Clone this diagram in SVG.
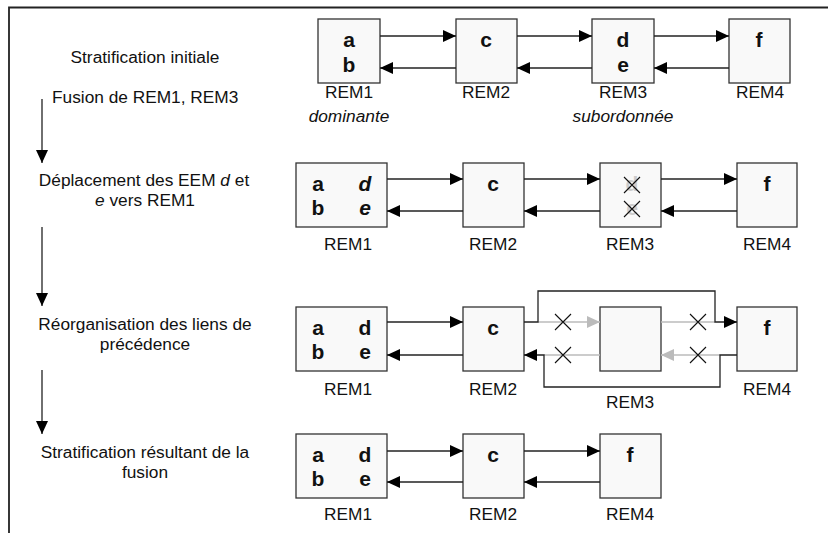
<svg xmlns="http://www.w3.org/2000/svg" width="828" height="533" viewBox="0 0 828 533">
<style>
.bx{fill:#f9f9f9;stroke:#333;stroke-width:1.3}
.t{font-family:"Liberation Sans",Arial,sans-serif;font-size:17.3px;fill:#111}
.l{font-family:"Liberation Sans",Arial,sans-serif;font-size:21px;font-weight:bold;fill:#111;text-anchor:middle}
.c{text-anchor:middle}
.i{font-style:italic}
.a{stroke:#222;stroke-width:1.3;fill:none;marker-end:url(#ah)}
.g{stroke:#bbb;stroke-width:1.3;fill:none}
.ga{stroke:#bbb;stroke-width:1.3;fill:none;marker-end:url(#gh)}
.x{stroke:#111;stroke-width:1.1}
.gl{fill:#ccc}
</style>
<defs>
<marker id="ah" markerUnits="userSpaceOnUse" markerWidth="13" markerHeight="12" refX="13" refY="6" orient="auto"><path d="M0,0 L13,6 L0,12 z" fill="#000"/></marker>
<marker id="gh" markerUnits="userSpaceOnUse" markerWidth="13" markerHeight="12" refX="13" refY="6" orient="auto"><path d="M0,0 L13,6 L0,12 z" fill="#bbb"/></marker>
</defs>
<g id="frame"><path d="M9,533 V7.5 H828" stroke="#222" stroke-width="1.8" fill="none"/></g>
<g id="steps">
<text class="t c" x="145" y="63">Stratification initiale</text>
<text class="t" x="52" y="103">Fusion de REM1, REM3</text>
<text class="t c" x="144" y="186">Déplacement des EEM <tspan class="i">d</tspan> et</text>
<text class="t c" x="145" y="206"><tspan class="i">e</tspan> vers REM1</text>
<text class="t c" x="145" y="330">Réorganisation des liens de</text>
<text class="t c" x="145" y="350">précédence</text>
<text class="t c" x="145" y="458">Stratification résultant de la</text>
<text class="t c" x="145" y="478">fusion</text>
</g>
<g id="step-arrows">
<line class="a" x1="42" y1="99" x2="42" y2="163"/>
<line class="a" x1="42" y1="227" x2="42" y2="306"/>
<line class="a" x1="42" y1="370" x2="42" y2="434"/>
</g>
<g id="row1">
<g id="r1-rem1"><rect class="bx" x="318" y="19" width="62" height="64"/><text class="l" x="349" y="47">a</text><text class="l" x="349" y="72">b</text><text class="t c" x="349" y="98">REM1</text><text class="t c i" x="349" y="122">dominante</text></g>
<g id="r1-rem2"><rect class="bx" x="456" y="19" width="61" height="64"/><text class="l" x="486" y="47">c</text><text class="t c" x="486" y="98">REM2</text></g>
<g id="r1-rem3"><rect class="bx" x="592" y="19" width="62" height="64"/><text class="l" x="623" y="47">d</text><text class="l" x="623" y="72">e</text><text class="t c" x="623" y="98">REM3</text><text class="t c i" x="623" y="122">subordonnée</text></g>
<g id="r1-rem4"><rect class="bx" x="729" y="19" width="61" height="64"/><text class="l" x="759" y="47">f</text><text class="t c" x="760" y="98">REM4</text></g>
</g>
<g id="row2">
<g id="r2-rem1"><rect class="bx" x="296" y="163" width="91" height="64"/><text class="l" x="318" y="191">a</text><text class="l i" x="365" y="191">d</text><text class="l" x="318" y="215">b</text><text class="l i" x="365" y="215">e</text><text class="t c" x="348" y="250">REM1</text></g>
<g id="r2-rem2"><rect class="bx" x="463" y="163" width="61" height="64"/><text class="l" x="493" y="191">c</text><text class="t c" x="493" y="250">REM2</text></g>
<g id="r2-rem3"><rect class="bx" x="600" y="163" width="61" height="64"/><text class="l gl" x="632" y="191">d</text><text class="l gl" x="632" y="215">e</text>
<path class="x" d="M624,177 L640,193 M640,177 L624,193 M624,201 L640,217 M640,201 L624,217"/><text class="t c" x="630" y="250">REM3</text></g>
<g id="r2-rem4"><rect class="bx" x="737" y="163" width="60" height="64"/><text class="l" x="767" y="191">f</text><text class="t c" x="767" y="250">REM4</text></g>
</g>
<g id="row3">
<g id="r3-rem1"><rect class="bx" x="296" y="307" width="91" height="64"/><text class="l" x="318" y="335">a</text><text class="l" x="365" y="335">d</text><text class="l" x="318" y="359">b</text><text class="l" x="365" y="359">e</text><text class="t c" x="348" y="395">REM1</text></g>
<g id="r3-rem2"><rect class="bx" x="463" y="307" width="61" height="64"/><text class="l" x="493" y="335">c</text><text class="t c" x="493" y="395">REM2</text></g>
<g id="r3-rem3"><rect class="bx" x="600" y="307" width="61" height="64"/><text class="t c" x="630" y="408">REM3</text></g>
<g id="r3-rem4"><rect class="bx" x="737" y="307" width="60" height="64"/><text class="l" x="767" y="335">f</text><text class="t c" x="767" y="395">REM4</text></g>
</g>
<g id="row4">
<g id="r4-rem1"><rect class="bx" x="296" y="434" width="91" height="64"/><text class="l" x="318" y="462">a</text><text class="l" x="365" y="462">d</text><text class="l" x="318" y="486">b</text><text class="l" x="365" y="486">e</text><text class="t c" x="348" y="520">REM1</text></g>
<g id="r4-rem2"><rect class="bx" x="463" y="434" width="61" height="64"/><text class="l" x="493" y="462">c</text><text class="t c" x="493" y="520">REM2</text></g>
<g id="r4-rem4"><rect class="bx" x="600" y="434" width="61" height="64"/><text class="l" x="630" y="462">f</text><text class="t c" x="630" y="520">REM4</text></g>
</g>
<g id="connectors">
<line class="a" x1="380" y1="36" x2="456" y2="36"/>
<line class="a" x1="456" y1="68" x2="380" y2="68"/>
<line class="a" x1="517" y1="36" x2="592" y2="36"/>
<line class="a" x1="592" y1="68" x2="517" y2="68"/>
<line class="a" x1="654" y1="36" x2="729" y2="36"/>
<line class="a" x1="729" y1="68" x2="654" y2="68"/>

<line class="a" x1="387" y1="179" x2="463" y2="179"/>
<line class="a" x1="463" y1="211" x2="387" y2="211"/>
<line class="a" x1="524" y1="179" x2="600" y2="179"/>
<line class="a" x1="600" y1="211" x2="524" y2="211"/>
<line class="a" x1="661" y1="179" x2="737" y2="179"/>
<line class="a" x1="737" y1="211" x2="661" y2="211"/>

<line class="a" x1="387" y1="322" x2="463" y2="322"/>
<line class="a" x1="463" y1="355" x2="387" y2="355"/>
<line class="ga" x1="538" y1="322" x2="600" y2="322"/>
<line class="g" x1="661" y1="322" x2="715" y2="322"/>
<line class="g" x1="600" y1="355" x2="544" y2="355"/>
<line class="ga" x1="720" y1="355" x2="661" y2="355"/>
<path class="a" d="M524,322 H538 V291 H715 V322 H737"/>
<path class="a" d="M737,355 H720 V387 H544 V355 H524"/>
<path class="x" d="M555,314 L571,330 M571,314 L555,330 M555,347 L571,363 M571,347 L555,363 M690,314 L706,330 M706,314 L690,330 M690,347 L706,363 M706,347 L690,363"/>

<line class="a" x1="387" y1="451" x2="463" y2="451"/>
<line class="a" x1="463" y1="482" x2="387" y2="482"/>
<line class="a" x1="524" y1="451" x2="600" y2="451"/>
<line class="a" x1="600" y1="482" x2="524" y2="482"/>
</g>
</svg>
